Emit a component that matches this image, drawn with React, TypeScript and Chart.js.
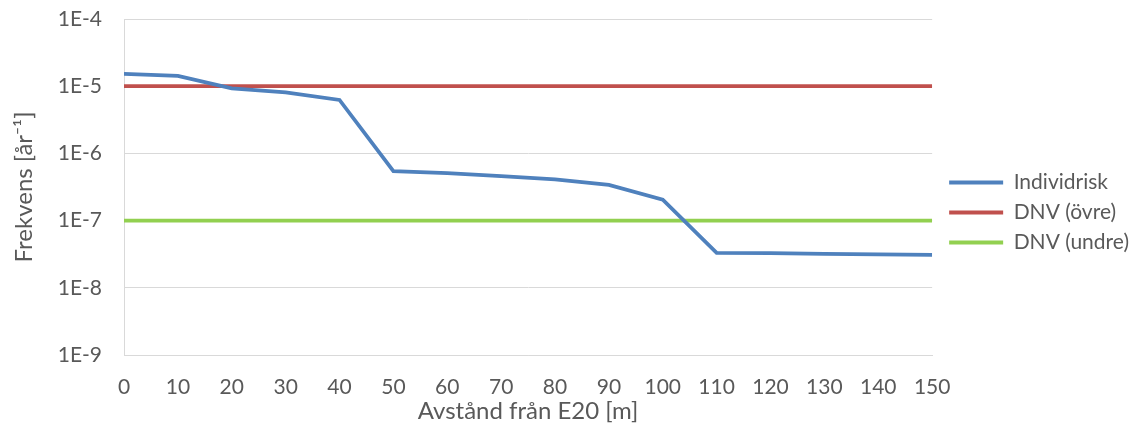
import React, { useEffect, useRef } from "react";
import { Chart, registerables } from "chart.js";

Chart.register(...registerables);

const distances = [0, 10, 20, 30, 40, 50, 60, 70, 80, 90, 100, 110, 120, 130, 140, 150];
const individRisk = [1.52e-5, 1.42e-5, 9.3e-6, 8.1e-6, 6.25e-6, 5.46e-7, 5.1e-7, 4.6e-7, 4.1e-7, 3.4e-7, 2.05e-7, 3.3e-8, 3.27e-8, 3.2e-8, 3.15e-8, 3.1e-8];
const dnvUpper = 1e-5;
const dnvLower = 1e-7;
const yTickValues = [1e-9, 1e-8, 1e-7, 1e-6, 1e-5, 1e-4];
const yTickLabels = ["1E-9", "1E-8", "1E-7", "1E-6", "1E-5", "1E-4"];

const FONT = "Lato";
const TEXT = "#595959";
const GRID = "#d9d9d9";

const legendShift = {
  id: "legendShift",
  afterLayout(chart: any) {
    if (chart.legend) {
      chart.legend.left += 8;
      chart.legend.right += 8;
    }
  },
};

export default function App() {
  const ref = useRef<HTMLCanvasElement | null>(null);
  useEffect(() => {
    if (!ref.current) return;
    const chart = new Chart(ref.current, {
      type: "line",
      data: {
        datasets: [
          {
            label: "Individrisk",
            data: distances.map((d, i) => ({ x: d, y: individRisk[i] })),
            borderColor: "#4f81bd",
            backgroundColor: "#4f81bd",
            borderWidth: 3.75,
            pointRadius: 0,
            tension: 0,
          },
          {
            label: "DNV (övre)",
            data: [
              { x: distances[0], y: dnvUpper },
              { x: distances[distances.length - 1], y: dnvUpper },
            ],
            borderColor: "#c0504d",
            backgroundColor: "#c0504d",
            borderWidth: 3.75,
            pointRadius: 0,
          },
          {
            label: "DNV (undre)",
            data: [
              { x: distances[0], y: dnvLower },
              { x: distances[distances.length - 1], y: dnvLower },
            ],
            borderColor: "#92d050",
            backgroundColor: "#92d050",
            borderWidth: 3.75,
            pointRadius: 0,
          },
        ],
      },
      plugins: [legendShift],
      options: {
        animation: false,
        responsive: false,
        maintainAspectRatio: false,
        layout: { padding: { top: 0, right: 6, bottom: 0, left: 10 } },
        plugins: {
          tooltip: { enabled: false },
          legend: {
            position: "right",
            align: "center",
            labels: {
              boxWidth: 54,
              boxHeight: 4,
              padding: 9,
              color: TEXT,
              font: { family: FONT, size: 21, lineHeight: 1 },
              generateLabels: (c: any) =>
                (Chart.defaults.plugins.legend.labels as any)
                  .generateLabels(c)
                  .map((l: any) => ({ ...l, lineWidth: 0 })),
            },
          },
        },
        scales: {
          x: {
            type: "linear",
            min: 0,
            max: 150,
            afterFit: (scale: any) => {
              scale.height = 70;
            },
            grid: { display: false, drawTicks: false },
            border: { display: true, color: GRID, width: 1 },
            ticks: {
              stepSize: 10,
              padding: 20,
              color: TEXT,
              font: { family: FONT, size: 21 },
              maxRotation: 0,
              autoSkip: false,
            },
            title: {
              display: true,
              text: "Avstånd från E20 [m]",
              color: TEXT,
              font: { family: FONT, size: 24, lineHeight: 1 },
              padding: { top: 0, bottom: 2 },
            },
          },
          y: {
            type: "logarithmic",
            min: 1e-9,
            max: 1e-4,
            afterBuildTicks: (axis: any) => {
              axis.ticks = yTickValues.map((v) => ({ value: v }));
            },
            afterFit: (scale: any) => {
              scale.width = 114;
              scale.paddingTop = 19;
              scale.paddingBottom = 0;
            },
            grid: { color: GRID, lineWidth: 1, drawTicks: false },
            border: { display: true, color: GRID, width: 1 },
            ticks: {
              padding: 22,
              color: TEXT,
              font: { family: FONT, size: 21 },
              callback: (value: any) => {
                const i = yTickValues.findIndex((v) => Math.abs(Math.log10(v) - Math.log10(value)) < 1e-6);
                return i >= 0 ? yTickLabels[i] : "";
              },
            },
            title: {
              display: true,
              text: "Frekvens [år⁻¹]",
              color: TEXT,
              font: { family: FONT, size: 24, lineHeight: 1.2 },
              padding: { top: 0, bottom: 0 },
            },
          },
        },
      },
    });
    return () => chart.destroy();
  }, []);
  return (
    <div style={{ position: "fixed", left: 0, top: 0, width: 1137, height: 425, background: "#fff" }}>
      <canvas ref={ref} width={1137} height={425} style={{ width: 1137, height: 425 }} />
    </div>
  );
}
